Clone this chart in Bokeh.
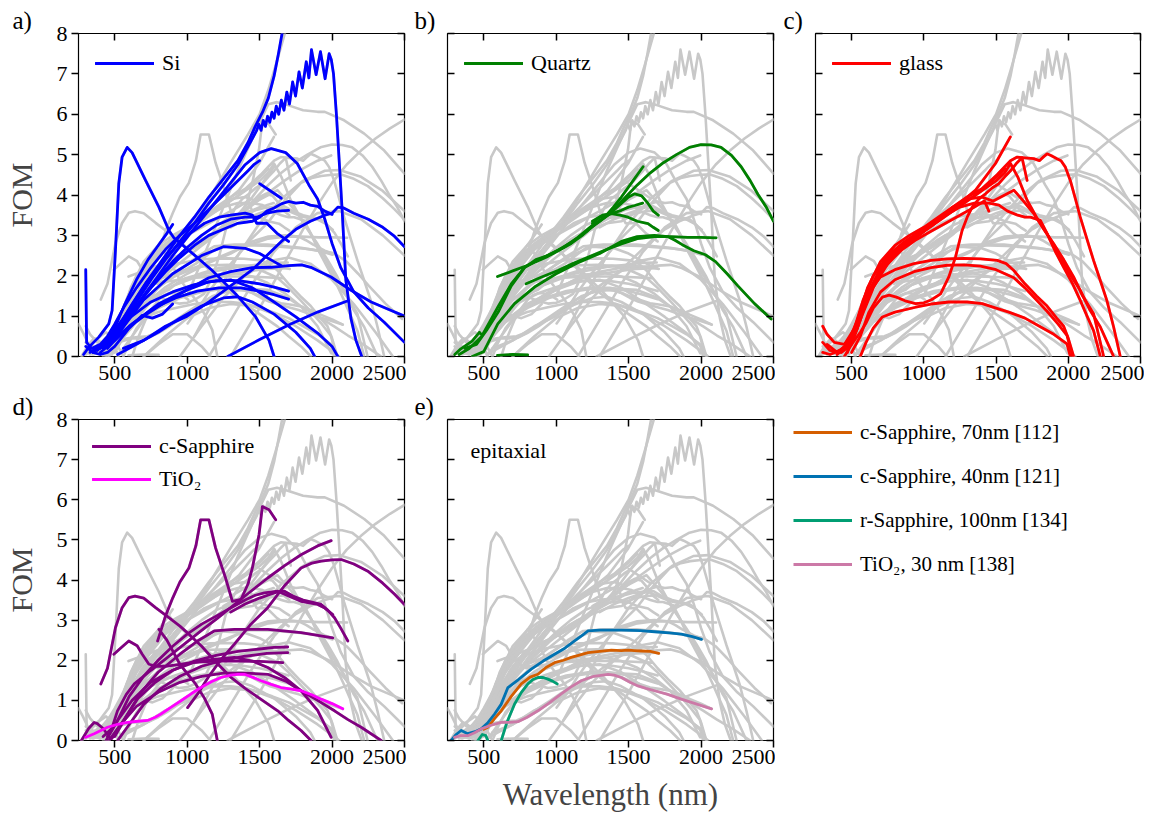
from bokeh.plotting import figure
from bokeh.layouts import row, column
from bokeh.models import (Label, Legend, LegendItem, LinearAxis, Range1d, FixedTicker, Title)
from bokeh.embed import file_html
from bokeh.resources import INLINE

# ---------------------------------------------------------------------------
# Data: FOM versus wavelength (nm), one list of (wavelength, FOM) pairs per curve
# ---------------------------------------------------------------------------
X_TICKS = [500, 1000, 1500, 2000, 2500]
Y_TICKS = [0, 1, 2, 3, 4, 5, 6, 7, 8]

si_curves = [
    [(300, 2.15), (306, 0.35), (340, 0.2), (400, 0.3), (450, 0.5), (500, 0.8), (560, 1.2), (650, 1.7),
     (750, 2.2), (850, 2.65), (950, 3.0), (1050, 3.3), (1150, 3.65), (1250, 4.0), (1350, 4.35),
     (1420, 4.6), (1460, 4.75), (1500, 4.85)],
    [(285, 0.05), (321, 0.23), (390, 0.48), (459, 0.81), (482, 1.14), (505, 2.63), (528, 4.28),
     (551, 4.94), (586, 5.18), (620, 5.05), (713, 4.36), (805, 3.7), (874, 3.12), (908, 2.94),
     (1012, 2.63), (1173, 2.13), (1335, 1.55), (1473, 0.98), (1565, 0.4), (1600, 0.0)],
    [(330, 0.1), (450, 0.4), (550, 0.9), (650, 1.45), (750, 2.0), (850, 2.5), (950, 3.0), (1050, 3.45),
     (1150, 3.95), (1250, 4.4), (1350, 4.85), (1420, 5.3), (1470, 5.7), (1520, 6.05), (1560, 6.4),
     (1600, 6.95), (1630, 7.5), (1665, 8.2)],
    [(350, 0.1), (450, 0.35), (550, 0.8), (650, 1.35), (750, 1.9), (850, 2.4), (950, 2.85), (1050, 3.3),
     (1150, 3.8), (1250, 4.25), (1350, 4.75), (1420, 5.2), (1480, 5.6), (1495, 5.75), (1510, 5.6),
     (1525, 5.85), (1540, 5.7), (1555, 5.95), (1570, 5.8), (1585, 6.05), (1600, 5.9), (1615, 6.2),
     (1632, 6.0), (1650, 6.35), (1668, 6.1), (1688, 6.55), (1706, 6.25), (1728, 6.8), (1748, 6.45),
     (1772, 7.05), (1795, 6.65), (1822, 7.3), (1840, 6.9), (1858, 7.6), (1890, 6.98), (1920, 7.55),
     (1952, 6.88), (1980, 7.5), (1995, 7.35), (2010, 7.0), (2030, 6.0), (2050, 4.8), (2070, 3.6),
     (2095, 1.9), (2130, 0.95), (2165, 0.4), (2205, 0.0)],
    [(420, 0.2), (500, 0.45), (600, 0.95), (700, 1.5), (800, 2.0), (900, 2.5), (1000, 2.95), (1100, 3.4),
     (1200, 3.85), (1300, 4.3), (1400, 4.75), (1500, 5.05), (1580, 5.15), (1680, 5.05), (1760, 4.78),
     (1840, 4.25), (1900, 3.9), (1950, 3.4), (2000, 2.8), (2060, 2.2), (2150, 1.6), (2250, 1.2),
     (2360, 0.85), (2500, 0.35)],
    [(1500, 4.28), (1650, 3.92)],
    [(450, 0.3), (550, 0.75), (650, 1.25), (750, 1.7), (850, 2.1), (950, 2.45), (1050, 2.75), (1150, 3.0),
     (1250, 3.15), (1350, 3.3), (1450, 3.35), (1500, 3.45), (1550, 3.6), (1600, 3.68), (1650, 3.78),
     (1700, 3.84), (1750, 3.8), (1800, 3.82), (1850, 3.75), (1900, 3.72), (1950, 3.6), (2000, 3.52)],
    [(560, 0.2), (700, 0.4), (850, 0.75), (1000, 1.0), (1150, 1.35), (1300, 1.75), (1450, 2.15),
     (1550, 2.5), (1650, 2.85), (1750, 3.15), (1850, 3.35), (1950, 3.5), (2000, 3.55), (2040, 3.7),
     (2080, 3.68), (2150, 3.55), (2250, 3.4), (2350, 3.2), (2430, 2.98), (2500, 2.72)],
    [(400, 0.2), (500, 0.5), (600, 1.0), (700, 1.5), (800, 1.95), (900, 2.35), (1000, 2.7), (1100, 3.0),
     (1200, 3.25), (1300, 3.4), (1400, 3.45), (1480, 3.45), (1550, 3.55), (1620, 3.6), (1700, 3.62)],
    [(420, 0.25), (520, 0.7), (620, 1.3), (720, 1.85), (820, 2.3), (920, 2.7), (1020, 3.05), (1120, 3.3),
     (1220, 3.45), (1300, 3.5), (1400, 3.55), (1450, 3.5), (1480, 3.3), (1550, 3.3), (1620, 3.05),
     (1700, 2.85)],
    [(430, 0.3), (500, 0.7), (570, 1.3), (650, 1.9), (730, 2.4), (800, 2.75), (860, 3.05), (900, 3.27)],
    [(450, 0.2), (550, 0.6), (700, 1.0), (850, 1.35), (1000, 1.65), (1150, 1.95), (1300, 2.1), (1450, 2.2),
     (1580, 2.21), (1700, 2.25), (1790, 2.27), (1860, 2.2), (1993, 1.97), (2131, 1.64), (2270, 1.35),
     (2400, 1.15), (2500, 1.0)],
    [(380, 0.15), (480, 0.5), (600, 0.95), (750, 1.35), (900, 1.6), (1050, 1.78), (1200, 1.88),
     (1350, 1.88), (1500, 1.8), (1600, 1.72), (1700, 1.62)],
    [(400, 0.1), (500, 0.4), (620, 0.8), (770, 1.2), (920, 1.45), (1070, 1.62), (1220, 1.7), (1370, 1.7),
     (1500, 1.62), (1600, 1.53), (1700, 1.42)],
    [(450, 0.25), (600, 0.75), (800, 1.3), (1000, 1.65), (1150, 1.85), (1300, 1.9), (1450, 1.7),
     (1600, 1.35), (1750, 0.98), (1900, 0.58), (2000, 0.25), (2040, 0.0)],
    [(520, 0.05), (650, 0.3), (800, 0.6), (950, 0.95), (1100, 1.25), (1250, 1.45), (1350, 1.48),
     (1450, 1.35), (1600, 1.05), (1750, 0.6), (1850, 0.2), (1880, 0.0)],
    [(1280, 0.0), (1500, 0.42), (1700, 0.78), (1900, 1.1), (2110, 1.38)],
    [(500, 0.45), (700, 1.4), (900, 2.05), (1100, 2.5), (1250, 2.72), (1400, 2.68), (1500, 2.55),
     (1600, 2.35), (1650, 2.25)],
    [(300, 0.25), (350, 0.1), (400, 0.05), (450, 0.1), (500, 0.25), (600, 0.7), (690, 1.02),
     (760, 0.95), (830, 1.05), (900, 1.3)],
]

quartz_curves = [
    [(330, 0.05), (400, 0.2), (482, 0.48), (540, 0.85), (597, 1.22), (650, 1.55), (690, 1.8), (782, 2.21),
     (860, 2.35), (943, 2.48), (1020, 2.63), (1104, 2.8), (1180, 3.0), (1242, 3.2), (1300, 3.35),
     (1358, 3.5), (1420, 3.72), (1480, 3.95), (1560, 4.25), (1650, 4.55), (1740, 4.8), (1830, 5.0),
     (1920, 5.18), (2000, 5.25), (2070, 5.24), (2138, 5.18), (2210, 4.98), (2277, 4.7), (2340, 4.35),
     (2392, 4.02), (2450, 3.7), (2500, 3.35)],
    [(595, 1.98), (700, 2.12), (805, 2.26), (910, 2.45), (1012, 2.63), (1115, 2.85), (1219, 3.12),
     (1280, 3.3), (1335, 3.45), (1395, 3.7), (1450, 3.95), (1530, 4.35), (1600, 4.7)],
    [(793, 1.8), (900, 1.97), (1012, 2.13), (1115, 2.3), (1219, 2.46), (1335, 2.63), (1450, 2.79),
     (1560, 2.92), (1678, 2.97), (1790, 2.97), (1908, 2.95), (2000, 2.95), (2104, 2.94)],
    [(420, 0.0), (500, 0.12), (597, 0.81), (713, 1.31), (851, 1.72), (1000, 2.05), (1150, 2.32),
     (1300, 2.55), (1450, 2.85), (1560, 2.97), (1678, 3.0), (1770, 2.97), (1820, 2.88), (1870, 2.77),
     (1950, 2.62), (2030, 2.52), (2100, 2.35), (2180, 2.05), (2254, 1.75), (2369, 1.31), (2484, 0.93)],
    [(370, 0.2), (450, 0.3), (520, 0.65), (600, 1.1), (690, 1.75), (782, 2.2), (860, 2.4), (943, 2.5),
     (1050, 2.7), (1150, 2.95), (1250, 3.25), (1358, 3.5), (1450, 3.79), (1500, 3.95), (1542, 4.03),
     (1590, 3.98), (1634, 3.79), (1670, 3.6), (1705, 3.5)],
    [(1250, 3.3), (1300, 3.45), (1381, 3.54), (1450, 3.62), (1500, 3.7), (1542, 3.74), (1597, 3.8)],
    [(1250, 3.35), (1320, 3.5), (1381, 3.54), (1440, 3.5), (1496, 3.45), (1560, 3.35), (1634, 3.29),
     (1670, 3.2), (1705, 3.12)],
    [(595, 0.03), (700, 0.05), (803, 0.04)],
    [(300, 0.05), (342, 0.19), (420, 0.38), (470, 0.6), (480, 0.56)],
]

glass_curves = [
    [(471, 0.1), (505, 0.48), (551, 0.98), (621, 1.55), (713, 2.13), (828, 2.63), (943, 2.96),
     (1058, 3.25), (1219, 3.7), (1358, 4.12), (1496, 4.78), (1599, 5.44)],
    [(380, 0.1), (450, 0.2), (520, 0.6), (600, 1.4), (700, 2.1), (800, 2.55), (900, 2.8), (1000, 3.1),
     (1100, 3.4), (1200, 3.7), (1300, 3.95), (1400, 4.15), (1507, 4.5), (1560, 4.7), (1600, 4.85),
     (1646, 4.94), (1700, 4.92), (1761, 4.9), (1800, 4.85), (1830, 4.95), (1853, 5.02), (1880, 4.98),
     (1922, 4.9), (1950, 4.85), (1980, 4.69), (2014, 4.36), (2050, 3.9), (2083, 3.45), (2130, 2.9),
     (2175, 2.38), (2220, 1.9), (2267, 1.39), (2314, 0.73), (2360, 0.0)],
    [(430, 0.1), (500, 0.3), (560, 0.6), (597, 0.81), (650, 1.2), (713, 1.47), (760, 1.52), (810, 1.47),
     (870, 1.38), (943, 1.31), (1000, 1.33), (1050, 1.4), (1116, 1.55), (1173, 1.97), (1219, 2.46),
     (1265, 3.12), (1300, 3.45), (1335, 3.7), (1380, 3.9), (1427, 4.03), (1475, 4.18), (1519, 4.28),
     (1560, 4.45), (1600, 4.6), (1640, 4.78), (1680, 4.92), (1700, 4.6), (1715, 4.36)],
    [(560, 0.0), (600, 0.35), (650, 0.7), (713, 0.98), (800, 1.1), (943, 1.22), (1050, 1.3), (1173, 1.35),
     (1300, 1.35), (1404, 1.31), (1500, 1.2), (1588, 1.1), (1700, 0.95), (1800, 0.75), (1900, 0.55),
     (1991, 0.31), (2014, 0.0)],
    [(400, 0.05), (480, 0.3), (540, 0.7), (586, 1.39), (640, 1.7), (701, 1.97), (800, 2.15), (932, 2.3),
     (1050, 2.38), (1162, 2.42), (1280, 2.43), (1392, 2.42), (1508, 2.38), (1570, 2.3), (1623, 2.13),
     (1700, 1.8), (1780, 1.5), (1853, 1.25), (1920, 0.95), (1968, 0.75), (2000, 0.45), (2037, 0.0)],
    [(500, 0.1), (560, 0.5), (620, 1.1), (701, 1.6), (800, 1.9), (932, 2.1), (1050, 2.2), (1162, 2.26),
     (1280, 2.27), (1392, 2.24), (1500, 2.15), (1623, 1.95), (1700, 1.7), (1780, 1.4), (1853, 1.12),
     (1930, 0.8), (1991, 0.52), (2030, 0.0)],
    [(450, 0.0), (500, 0.3), (560, 0.9), (620, 1.6), (700, 2.2), (800, 2.6), (900, 2.85), (1000, 3.1),
     (1100, 3.35), (1200, 3.6), (1300, 3.85), (1400, 4.1), (1500, 4.35), (1560, 4.55), (1600, 4.78),
     (1650, 4.45), (1715, 3.87), (1780, 3.45), (1853, 3.04), (1910, 2.6), (1968, 2.21), (2030, 1.8),
     (2083, 1.39), (2130, 1.0), (2175, 0.64), (2222, 0.0)],
    [(330, 0.3), (400, 0.1), (470, 0.3), (540, 0.9), (610, 1.7), (700, 2.35), (800, 2.75), (900, 3.0),
     (1000, 3.2), (1100, 3.45), (1200, 3.7), (1300, 3.9), (1400, 3.95), (1480, 3.85), (1560, 4.0),
     (1623, 4.12), (1690, 3.85), (1761, 3.54), (1830, 3.15), (1899, 2.79), (1968, 2.4), (2037, 1.97),
     (2100, 1.5), (2175, 1.06), (2245, 0.0)],
    [(300, 0.75), (330, 0.55), (380, 0.35), (450, 0.3), (520, 0.7), (580, 1.4), (650, 2.0), (750, 2.5),
     (850, 2.8), (950, 3.05), (1050, 3.3), (1150, 3.5), (1250, 3.7), (1350, 3.8), (1450, 3.8),
     (1520, 3.75), (1580, 3.6), (1650, 3.5), (1700, 3.45), (1738, 3.45), (1807, 3.37), (1860, 3.0),
     (1922, 2.63), (2000, 2.1), (2083, 1.64), (2150, 1.15), (2222, 0.73), (2270, 0.35), (2314, 0.0)],
    [(300, 0.35), (350, 0.15), (420, 0.1), (500, 0.35), (570, 1.0), (650, 1.7), (750, 2.3), (850, 2.65),
     (950, 2.9), (1050, 3.1), (1150, 3.3), (1250, 3.5), (1350, 3.7), (1420, 3.85), (1450, 3.6)],
    [(300, 0.1), (350, 0.05), (420, 0.15), (500, 0.4), (560, 1.0), (640, 1.75), (740, 2.4), (840, 2.75),
     (940, 3.0), (1040, 3.25), (1140, 3.5), (1240, 3.75), (1340, 3.95), (1440, 4.25), (1520, 4.5),
     (1560, 4.65)],
]

csapphire_curves = [
    [(796, 2.48), (850, 3.1), (900, 3.55), (950, 3.95), (1012, 4.3), (1060, 4.85), (1093, 5.5),
     (1150, 5.5), (1196, 4.8), (1265, 4.05), (1312, 3.47), (1372, 3.52), (1420, 3.9), (1450, 4.3),
     (1496, 5.13), (1519, 5.83), (1565, 5.75), (1611, 5.5)],
    [(404, 1.41), (450, 1.8), (505, 2.81), (550, 3.3), (597, 3.56), (640, 3.6), (700, 3.55), (782, 3.31),
     (874, 3.06), (950, 2.85), (1012, 2.65), (1100, 2.35), (1200, 1.95), (1300, 1.58), (1400, 1.3),
     (1500, 1.05), (1625, 0.74), (1700, 0.5), (1786, 0.25), (1855, 0.0)],
    [(420, 0.1), (480, 0.3), (519, 0.74), (580, 1.15), (635, 1.41), (750, 1.75), (865, 2.07), (980, 2.4),
     (1095, 2.73), (1210, 3.05), (1326, 3.39), (1440, 3.72), (1556, 4.05), (1670, 4.35), (1786, 4.63),
     (1900, 4.85), (1994, 4.98)],
    [(1003, 0.82), (1080, 1.2), (1150, 1.6), (1230, 2.0), (1326, 2.4), (1440, 2.9), (1556, 3.31),
     (1670, 3.85), (1786, 4.3), (1860, 4.42), (1925, 4.47), (2000, 4.5), (2063, 4.51), (2150, 4.4),
     (2247, 4.22), (2350, 3.92), (2430, 3.65), (2500, 3.39)],
    [(450, 0.1), (520, 0.5), (600, 1.1), (700, 1.6), (800, 2.0), (900, 2.35), (1000, 2.65), (1100, 2.9),
     (1200, 3.1), (1300, 3.3), (1400, 3.5), (1470, 3.62), (1533, 3.68), (1625, 3.72), (1700, 3.6),
     (1786, 3.47), (1901, 3.39), (1950, 3.3), (2005, 3.14)],
    [(1300, 3.2), (1400, 3.4), (1500, 3.55), (1580, 3.65), (1640, 3.72), (1671, 3.72), (1730, 3.6),
     (1800, 3.5), (1860, 3.45), (1925, 3.39), (1970, 3.25), (2017, 3.06), (2060, 2.8), (2109, 2.48)],
    [(500, 0.1), (580, 0.6), (680, 1.2), (800, 1.7), (950, 2.15), (1080, 2.5), (1187, 2.73), (1326, 2.77),
     (1556, 2.77), (1786, 2.69), (2005, 2.56)],
    [(480, 0.05), (560, 0.5), (660, 1.05), (780, 1.45), (900, 1.75), (1050, 1.98), (1200, 2.12),
     (1350, 2.22), (1500, 2.28), (1600, 2.32), (1694, 2.33)],
    [(520, 0.0), (600, 0.4), (700, 0.9), (820, 1.3), (950, 1.6), (1100, 1.85), (1250, 2.0), (1400, 2.1),
     (1550, 2.17), (1694, 2.19)],
    [(494, 2.15), (540, 2.3), (597, 2.48), (655, 2.36), (690, 2.15), (736, 1.9), (790, 1.85), (850, 1.85),
     (950, 1.9), (1050, 1.95), (1200, 1.98), (1350, 1.98), (1500, 1.97), (1660, 1.94)],
    [(440, 0.0), (520, 0.5), (620, 1.0), (750, 1.45), (900, 1.75), (1050, 1.95), (1200, 2.03),
     (1326, 2.07), (1450, 1.98), (1556, 1.82), (1680, 1.55), (1786, 1.24), (1900, 0.75), (1994, 0.08)],
    [(460, 0.0), (540, 0.4), (650, 0.85), (800, 1.2), (950, 1.45), (1100, 1.6), (1250, 1.68), (1400, 1.68),
     (1556, 1.65), (1680, 1.48), (1786, 1.24), (1900, 1.0), (2017, 0.74), (2110, 0.52), (2201, 0.33),
     (2339, 0.0)],
    [(805, 2.77), (860, 2.5), (950, 1.9), (1058, 1.41), (1120, 1.05), (1173, 0.66), (1208, 0.0)],
    [(270, 0.0), (320, 0.3), (358, 0.45), (380, 0.42), (420, 0.3), (470, 0.05)],
]

tio2_curves = [
    [(300, 0.08), (358, 0.17), (450, 0.33), (520, 0.4), (589, 0.45), (660, 0.48), (727, 0.5), (780, 0.58),
     (819, 0.66), (890, 0.83), (957, 0.99), (1030, 1.17), (1095, 1.32), (1170, 1.47), (1233, 1.57),
     (1300, 1.63), (1349, 1.65), (1395, 1.65), (1450, 1.58), (1510, 1.49), (1580, 1.4), (1648, 1.32),
     (1720, 1.28), (1786, 1.24), (1860, 1.14), (1925, 1.03), (2000, 0.92), (2074, 0.79)],
]

epi_csapphire_70nm = [(500, 0.28), (529, 0.33), (575, 0.55), (621, 0.74), (690, 1.1), (759, 1.41), (820, 1.58),
                      (874, 1.65), (930, 1.82), (989, 1.94), (1050, 2.0), (1104, 2.07), (1160, 2.13),
                      (1220, 2.19), (1300, 2.22), (1381, 2.25), (1450, 2.24), (1496, 2.25), (1540, 2.24),
                      (1588, 2.23), (1650, 2.22), (1708, 2.17)]
epi_csapphire_40nm = [(275, 0.0), (310, 0.15), (344, 0.25), (390, 0.17), (440, 0.22), (483, 0.29), (530, 0.45),
                      (575, 0.66), (620, 0.9), (667, 1.32), (740, 1.52), (828, 1.78), (910, 1.98), (989, 2.15),
                      (1060, 2.3), (1127, 2.48), (1180, 2.62), (1220, 2.73), (1300, 2.75), (1450, 2.75),
                      (1580, 2.74), (1680, 2.71), (1780, 2.68), (1864, 2.65), (1940, 2.59), (2003, 2.52)]
epi_rsapphire_100nm = [(460, 0.0), (490, 0.15), (515, 0.12), (540, -0.1), (580, -0.3), (621, 0.0), (660, 0.45),
                       (713, 0.91), (760, 1.2), (805, 1.41), (840, 1.52), (874, 1.57), (910, 1.57), (943, 1.53),
                       (975, 1.48), (1007, 1.41)]
epi_tio2_30nm = [(298, 0.08), (340, 0.12), (390, 0.12), (440, 0.2), (483, 0.29), (550, 0.38), (621, 0.45),
                 (680, 0.45), (736, 0.47), (800, 0.58), (874, 0.74), (950, 0.93), (1035, 1.16), (1100, 1.33),
                 (1173, 1.49), (1260, 1.6), (1358, 1.65), (1400, 1.63), (1450, 1.57), (1510, 1.45),
                 (1565, 1.36), (1620, 1.3), (1680, 1.24), (1770, 1.15), (1864, 1.03), (1960, 0.92), (2072, 0.79)]

# curves of other substrates, only shown in the grey background
other_curves = [
    [(1300, 0.0), (1400, 0.6), (1500, 1.2), (1600, 1.85), (1700, 2.5), (1800, 3.15), (1900, 3.75),
     (2000, 4.3), (2100, 4.75), (2200, 5.1), (2300, 5.4), (2400, 5.65), (2500, 5.87)],
    [(1000, 1.5), (1150, 2.8), (1250, 3.7), (1350, 4.6), (1450, 5.4), (1500, 5.8), (1560, 6.25),
     (1620, 6.3), (1700, 6.22), (1800, 6.1), (1900, 6.06), (1950, 6.06), (2083, 5.85), (2222, 5.52),
     (2360, 5.1), (2500, 4.53)],
    [(400, 0.1), (550, 0.7), (700, 1.5), (850, 2.3), (1000, 3.1), (1150, 3.9), (1300, 4.8), (1420, 5.5),
     (1500, 6.0), (1560, 6.6), (1610, 7.2), (1650, 7.7), (1690, 8.2)],
    [(700, 0.0), (850, 0.5), (1000, 0.95), (1150, 1.2), (1300, 1.3), (1450, 1.25), (1600, 1.05),
     (1750, 0.75), (1900, 0.4), (2050, 0.0)],
    [(950, 0.0), (1100, 0.75), (1250, 1.45), (1400, 2.0), (1550, 2.35), (1700, 2.45), (1850, 2.3),
     (2000, 1.9), (2150, 1.3), (2300, 0.6), (2420, 0.0)],
    [(1150, 0.0), (1300, 0.9), (1450, 1.8), (1600, 2.6), (1750, 3.2), (1900, 3.55), (2050, 3.6),
     (2200, 3.4), (2350, 3.0), (2500, 2.5)],
    [(1050, 0.5), (1200, 1.5), (1350, 2.5), (1500, 3.3), (1650, 3.9), (1800, 4.35), (1950, 4.6),
     (2050, 4.62), (2200, 4.45), (2350, 4.1), (2500, 3.6)],
    [(250, 0.8), (280, 0.6), (320, 0.3), (380, 0.45), (440, 0.6), (500, 0.4), (560, 0.0)],
    [(700, 0.0), (800, 0.3), (900, 0.55), (1000, 0.55), (1100, 0.25), (1160, 0.0)],
]

# ---------------------------------------------------------------------------
# Styling
# ---------------------------------------------------------------------------
FONT = "Liberation Serif"
GREY = "#c8c8c8"
TICK_FONT = "22px"
LEGEND_FONT = "22px"

epi_curves = [epi_csapphire_70nm, epi_csapphire_40nm, epi_rsapphire_100nm, epi_tio2_30nm]
all_curves = si_curves + quartz_curves + glass_curves + csapphire_curves + tio2_curves + epi_curves + other_curves


def split(curves):
    return [[pt[0] for pt in c] for c in curves], [[pt[1] for pt in c] for c in curves]


def hidden_axis(ticks):
    # tick marks only, pointing into the frame
    return LinearAxis(ticker=FixedTicker(ticks=ticks), major_tick_in=7, major_tick_out=0,
                      major_tick_line_width=1.5, minor_tick_line_color=None, axis_line_color=None,
                      major_label_text_font_size="0px", major_label_text_color=None,
                      major_label_standoff=0)


def make_panel(width, height, lb, rb, tb, bb, tag, tag_dx, show_ylabels, xlabel=None):
    p = figure(width=width, height=height, x_range=Range1d(250, 2500), y_range=Range1d(0, 8),
               output_backend="svg", toolbar_location=None,
               min_border_left=lb, min_border_right=rb, min_border_top=tb, min_border_bottom=bb)
    p.title = Title(text=tag, align="left", offset=tag_dx, standoff=0,
                    text_font=FONT, text_font_size="25px", text_font_style="normal", text_color="black")
    p.grid.visible = False
    p.outline_line_color = "black"
    p.outline_line_width = 1.2
    p.background_fill_color = "white"
    p.border_fill_color = "white"

    xa = p.xaxis[0]
    xa.ticker = FixedTicker(ticks=X_TICKS)
    xa.major_tick_in = 0
    xa.major_tick_out = 7
    xa.major_tick_line_width = 1.5
    xa.minor_tick_line_color = None
    xa.axis_line_color = None
    xa.major_label_text_font = FONT
    xa.major_label_text_font_size = TICK_FONT
    xa.major_label_text_color = "black"
    xa.major_label_standoff = 2
    if xlabel:
        xa.axis_label = xlabel
        xa.axis_label_text_font = FONT
        xa.axis_label_text_font_size = "31px"
        xa.axis_label_text_font_style = "normal"
        xa.axis_label_standoff = 10

    ya = p.yaxis[0]
    ya.ticker = FixedTicker(ticks=Y_TICKS)
    ya.minor_tick_line_color = None
    ya.axis_line_color = None
    ya.major_tick_line_width = 1.5
    if show_ylabels:
        ya.major_tick_in = 0
        ya.major_tick_out = 7
        ya.major_label_text_font = FONT
        ya.major_label_text_font_size = TICK_FONT
        ya.major_label_text_color = "black"
        ya.major_label_standoff = 4
        ya.axis_label = "FOM"
        ya.axis_label_text_font = FONT
        ya.axis_label_text_font_size = "30px"
        ya.axis_label_text_font_style = "normal"
        ya.axis_label_standoff = 16
    else:
        ya.major_tick_in = 7
        ya.major_tick_out = 0
        ya.major_label_text_font_size = "0px"
        ya.major_label_text_color = None
        ya.major_label_standoff = 0

    p.add_layout(hidden_axis(X_TICKS), "above")
    p.add_layout(hidden_axis(Y_TICKS), "right")

    gx, gy = split(all_curves)
    p.multi_line(gx, gy, line_color=GREY, line_width=2.6, line_join="round", line_cap="round")
    return p


def add_legend(p, items, offset, spacing):
    leg = Legend(items=items, location="top_left", margin=offset, padding=0,
                 background_fill_alpha=0, border_line_color=None,
                 glyph_width=59, glyph_height=26, label_height=26, label_standoff=8, spacing=spacing,
                 label_text_font=FONT, label_text_font_size=LEGEND_FONT, label_text_color="black")
    p.add_layout(leg)


# Row 1: Si, Quartz, glass
ROW1_TOP, ROW1_BOTTOM = 33, 34
ROW1_H = ROW1_TOP + 323 + ROW1_BOTTOM
pa = make_panel(406, ROW1_H, 78, 2, ROW1_TOP, ROW1_BOTTOM, "a)", -66, True)
xs, ys = split(si_curves)
r_si = pa.multi_line(xs, ys, line_color="#0000ff", line_width=2.8, line_join="round", line_cap="round")
add_legend(pa, [LegendItem(label="Si", renderers=[r_si])], 17, 0)

pb = make_panel(369, ROW1_H, 41, 2, ROW1_TOP, ROW1_BOTTOM, "b)", -33, False)
xs, ys = split(quartz_curves)
r_q = pb.multi_line(xs, ys, line_color="#008000", line_width=2.8, line_join="round", line_cap="round")
add_legend(pb, [LegendItem(label="Quartz", renderers=[r_q])], 17, 0)

pc = make_panel(369, ROW1_H, 40, 4, ROW1_TOP, ROW1_BOTTOM, "c)", -32, False)
xs, ys = split(glass_curves)
r_g = pc.multi_line(xs, ys, line_color="#ff0000", line_width=2.8, line_join="round", line_cap="round")
add_legend(pc, [LegendItem(label="glass", renderers=[r_g])], 17, 0)

# Row 2: c-Sapphire / TiO2, epitaxial films
ROW2_H = 818 - ROW1_H
ROW2_TOP = 28
pd = make_panel(406, ROW2_H, 78, 2, ROW2_TOP, 78, "d)", -66, True)
xs, ys = split(csapphire_curves)
r_cs = pd.multi_line(xs, ys, line_color="#800080", line_width=2.8, line_join="round", line_cap="round")
xs, ys = split(tio2_curves)
r_ti = pd.multi_line(xs, ys, line_color="#ff00ff", line_width=2.8, line_join="round", line_cap="round")
add_legend(pd, [LegendItem(label="c-Sapphire", renderers=[r_cs]),
                LegendItem(label="TiO₂", renderers=[r_ti])], 14, 7)

pe = make_panel(369, ROW2_H, 41, 2, ROW2_TOP, 78, "e)", -33, False, xlabel="Wavelength (nm)")
epi_colors = ["#d55e00", "#0072b2", "#009e73", "#cc79a7"]
epi_labels = ["c-Sapphire, 70nm [112]", "c-Sapphire, 40nm [121]", "r-Sapphire, 100nm [134]", "TiO₂, 30 nm [138]"]
for curve, col in zip(epi_curves, epi_colors):
    pe.line([pt[0] for pt in curve], [pt[1] for pt in curve], line_color=col, line_width=2.8,
            line_join="round", line_cap="round")
frame_h_e = ROW2_H - ROW2_TOP - 78
pe.add_layout(Label(x=23, y=frame_h_e - 32, x_units="screen", y_units="screen", text="epitaxial",
                    text_font=FONT, text_font_size="22px", text_color="black", text_baseline="middle"))

# Legend for the epitaxial films, placed beside panel e (its key lines sit outside the visible range)
pl = figure(width=1169 - 775, height=ROW2_H, x_range=Range1d(0, 1), y_range=Range1d(0, 1),
            output_backend="svg", toolbar_location=None, x_axis_location=None, y_axis_location=None,
            min_border_left=18, min_border_right=0, min_border_top=26, min_border_bottom=0)
pl.grid.visible = False
pl.outline_line_color = None
leg_items = []
for lab, col in zip(epi_labels, epi_colors):
    r = pl.line(x=[-5, -4], y=[-5, -4], line_color=col, line_width=2.8)
    leg_items.append(LegendItem(label=lab, renderers=[r]))
leg = Legend(items=leg_items, location="top_left", margin=0, padding=0,
             background_fill_alpha=0, border_line_color=None,
             glyph_width=59, glyph_height=26, label_height=26, label_standoff=8, spacing=18,
             label_text_font=FONT, label_text_font_size="21px", label_text_color="black")
pl.add_layout(leg)

layout = column(row(pa, pb, pc), row(pd, pe, pl))

with open("out.html", "w") as f:
    f.write(file_html(layout, INLINE))
